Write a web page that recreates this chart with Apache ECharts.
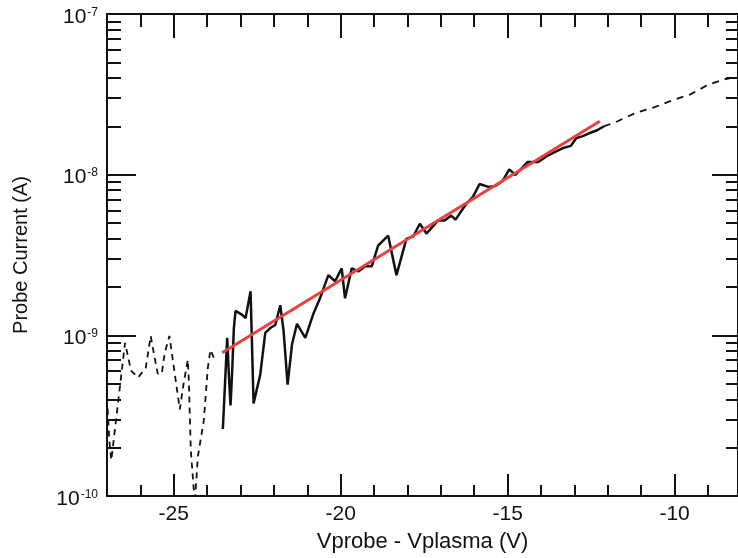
<!DOCTYPE html>
<html>
<head>
<meta charset="utf-8">
<script src="https://cdn.jsdelivr.net/npm/echarts@6.0.0/dist/echarts.min.js"></script>
<style>
  html, body { margin: 0; padding: 0; background: #fff; }
  #chart { width: 738px; height: 558px; }
</style>
</head>
<body>
<div id="chart"></div>
<script>
// probe trace, solid part (V, A)
const solidV = [-23.53, -23.45, -23.40, -23.35, -23.30, -23.25, -23.20, -23.15, -22.95, -22.85,
  -22.70, -22.61, -22.41, -22.26, -22.11, -21.96, -21.81, -21.71, -21.59, -21.46,
  -21.31, -21.06, -20.82, -20.62, -20.37, -20.17, -19.97, -19.87, -19.67, -19.47,
  -19.27, -19.07, -18.88, -18.58, -18.33, -18.03, -17.83, -17.63, -17.43, -17.09,
  -16.89, -16.69, -16.56, -16.24, -16.04, -15.84, -15.58, -15.37, -15.15, -14.95,
  -14.77, -14.40, -14.08, -13.79, -13.36, -13.11, -12.94, -12.77, -12.56, -12.32, -12.12];
const solidI = [2.61e-10, 5.85e-10, 9.64e-10, 5.69e-10, 3.66e-10, 6.03e-10, 1.11e-9, 1.42e-9, 1.34e-9, 1.28e-9,
  1.88e-9, 3.77e-10, 5.69e-10, 1.035e-9, 1.11e-9, 1.16e-9, 1.54e-9, 1.06e-9, 4.93e-10, 8.73e-10,
  1.18e-9, 9.64e-10, 1.36e-9, 1.70e-9, 2.37e-9, 2.17e-9, 2.61e-9, 1.70e-9, 2.61e-9, 2.50e-9,
  2.69e-9, 2.69e-9, 3.62e-9, 4.18e-9, 2.37e-9, 4.00e-9, 4.12e-9, 4.95e-9, 4.30e-9, 5.18e-9,
  5.18e-9, 5.56e-9, 5.25e-9, 6.59e-9, 7.28e-9, 8.75e-9, 8.39e-9, 8.51e-9, 9.14e-9, 1.08e-8,
  9.95e-9, 1.20e-8, 1.20e-8, 1.32e-8, 1.46e-8, 1.51e-8, 1.69e-8, 1.73e-8, 1.81e-8, 1.89e-8, 2.00e-8];

// dashed parts outside the fit range
const dashLeftV = [-26.98, -26.93, -26.87, -26.46, -26.28, -26.07, -25.84, -25.69, -25.60, -25.48,
  -25.36, -25.27, -25.13, -24.82, -24.71, -24.58, -24.55, -24.49, -24.37, -24.28,
  -24.10, -23.98, -23.90, -23.80];
const dashLeftI = [3.5e-10, 2.2e-10, 1.67e-10, 8.97e-10, 6.03e-10, 5.46e-10, 6.28e-10, 9.91e-10, 7.78e-10, 5.77e-10,
  5.77e-10, 7.78e-10, 9.91e-10, 3.46e-10, 4.93e-10, 7.05e-10, 5.30e-10, 1.93e-10, 9.0e-11, 1.75e-10,
  2.96e-10, 6.28e-10, 8.13e-10, 7.25e-10];
const dashRightV = [-12.12, -11.77, -11.13, -10.62, -10.13, -9.53, -8.98, -8.54, -8.12];
const dashRightI = [2.00e-8, 2.12e-8, 2.44e-8, 2.62e-8, 2.87e-8, 3.16e-8, 3.64e-8, 3.91e-8, 4.08e-8];

// exponential fit (straight on log scale)
const fitV = [-23.55, -12.24];
const fitI = [7.8e-10, 2.15e-8];

const xMajor = [-25, -20, -15, -10];
const xMinor = [-26, -24, -23, -22, -21, -19, -18, -17, -16, -14, -13, -12, -11, -9];
const yDecades = [1e-10, 1e-9, 1e-8, 1e-7];

const yMinor = [];
[1e-10, 1e-9, 1e-8].forEach((d) => {
  for (let k = 2; k <= 9; k++) yMinor.push(k * d);
});

const pairs = (xs, ys) => xs.map((x, i) => [x, ys[i]]);
const font = "Liberation Sans, Arial, Helvetica, sans-serif";
const ink = "#111";

function xAxisDef(position, ticks, len, labels) {
  return {
    type: "value",
    position: position,
    min: -27,
    max: -8.1,
    axisLine: { show: true, onZero: false, lineStyle: { color: ink, width: 2 } },
    axisTick: { show: true, inside: true, length: len, customValues: ticks, lineStyle: { color: ink, width: 2 } },
    axisLabel: labels
      ? { show: true, customValues: xMajor, color: ink, fontSize: 21, fontFamily: font, margin: 8 }
      : { show: false },
    splitLine: { show: false },
  };
}

function yAxisDef(position, ticks, len, labels) {
  return {
    type: "log",
    logBase: 10,
    position: position,
    min: 1e-10,
    max: 1e-7,
    axisLine: { show: true, lineStyle: { color: ink, width: 2 } },
    axisTick: { show: true, inside: true, length: len, customValues: ticks, lineStyle: { color: ink, width: 2 } },
    axisLabel: labels
      ? {
          show: true,
          customValues: yDecades,
          margin: 9,
          formatter: function (v) {
            return "{b|10}{s|" + Math.round(Math.log10(v)) + "}";
          },
          rich: {
            b: { fontSize: 21, fontFamily: font, color: ink, lineHeight: 21, padding: [6, 0, 0, 0] },
            s: { fontSize: 12, fontFamily: font, color: ink, lineHeight: 12, verticalAlign: "top", padding: [3, 0, 0, 1] },
          },
        }
      : { show: false },
    splitLine: { show: false },
  };
}

const chart = echarts.init(document.getElementById("chart"));
const xAxes = [
  xAxisDef("bottom", xMajor, 22, true),
  xAxisDef("bottom", xMinor, 11, false),
  xAxisDef("top", xMajor, 24, false),
  xAxisDef("top", xMinor, 13, false),
];
xAxes[0].name = "Vprobe - Vplasma (V)";
xAxes[0].nameLocation = "middle";
xAxes[0].nameGap = 35;
xAxes[0].nameTextStyle = { color: ink, fontSize: 22, fontFamily: font };

const yAxes = [
  yAxisDef("left", [1e-9, 1e-8], 29, true),
  yAxisDef("left", yMinor, 14, false),
  yAxisDef("right", [1e-9, 1e-8], 26, false),
  yAxisDef("right", yMinor, 12, false),
];
yAxes[0].name = "Probe Current (A)";
yAxes[0].nameLocation = "middle";
yAxes[0].nameGap = 76;
yAxes[0].nameTextStyle = { color: ink, fontSize: 20, fontFamily: font };

chart.setOption({
  animation: false,
  backgroundColor: "#fff",
  grid: { left: 107, right: -1, top: 14, bottom: 59, containLabel: false },
  xAxis: xAxes,
  yAxis: yAxes,
  series: [
    {
      type: "line",
      data: pairs(dashLeftV, dashLeftI),
      showSymbol: false,
      clip: true,
      lineStyle: { color: ink, width: 1.8, type: [6, 5] },
    },
    {
      type: "line",
      data: pairs(dashRightV, dashRightI),
      showSymbol: false,
      clip: true,
      lineStyle: { color: ink, width: 1.8, type: [7, 6] },
    },
    {
      type: "line",
      data: pairs(solidV, solidI),
      showSymbol: false,
      lineStyle: { color: ink, width: 2.5 },
      z: 3,
    },
    {
      type: "line",
      data: pairs(fitV, fitI),
      showSymbol: false,
      lineStyle: { color: "#e8413f", width: 3 },
      z: 4,
    },
  ],
});
</script>
</body>
</html>
